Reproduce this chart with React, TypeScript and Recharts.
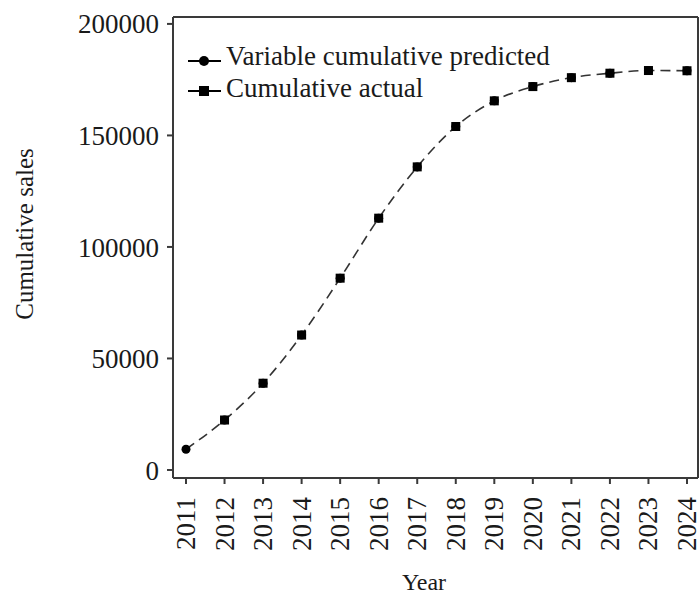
import {
  LineChart,
  Line,
  XAxis,
  YAxis,
} from 'recharts';

const years = [2011, 2012, 2013, 2014, 2015, 2016, 2017, 2018, 2019, 2020, 2021, 2022, 2023, 2024];
const predicted = [9300, 22400, 38900, 60500, 86000, 112900, 135900, 154000, 165500, 171900, 175900, 177900, 179100, 179000];
const actual = [null, 22400, 38900, 60500, 86000, 112900, 135900, 154000, 165500, 171900, 175900, 177900, 179100, 179000];
const yTicks = [0, 50000, 100000, 150000, 200000];

const data = years.map((year, i) => ({
  year,
  predicted: predicted[i],
  actual: actual[i],
}));

const FONT = '"Liberation Serif", "Times New Roman", serif';
const TEXT = '#1a1a1a';
const AXIS = '#3a3a3a';

const XTick = ({ x, y, payload }: any) => (
  <text
    x={0}
    y={0}
    transform={`translate(${x + 9},${y + 11}) rotate(-90)`}
    textAnchor="end"
    fontFamily={FONT}
    fontSize={27}
    fill={TEXT}
  >
    {payload.value}
  </text>
);

const CircleDot = ({ cx, cy, index }: any) => {
  if (cx == null || cy == null) return <g key={`c${index}`} />;
  return <circle key={`c${index}`} cx={cx} cy={cy} r={4.5} fill="#000" />;
};

const SquareDot = ({ cx, cy, index }: any) => {
  if (cx == null || cy == null) return <g key={`s${index}`} />;
  return <rect key={`s${index}`} x={cx - 4.5} y={cy - 4.5} width={9} height={9} fill="#000" />;
};

// legend drawn as an overlay so it does not eat chart space
const LegendBox = () => (
  <svg
    width={400}
    height={80}
    style={{ position: 'absolute', left: 186, top: 42, overflow: 'visible' }}
  >
    <line x1={2} y1={19} x2={35} y2={19} stroke="#000" strokeWidth={2} />
    <circle cx={18} cy={19} r={5} fill="#000" />
    <text x={40} y={23} fontFamily={FONT} fontSize={27} fill={TEXT}>
      Variable cumulative predicted
    </text>
    <line x1={2} y1={49} x2={35} y2={49} stroke="#000" strokeWidth={2} />
    <rect x={13} y={44} width={10} height={10} fill="#000" />
    <text x={40} y={55} fontFamily={FONT} fontSize={27} fill={TEXT}>
      Cumulative actual
    </text>
  </svg>
);

export default function App() {
  return (
    <div style={{ position: 'absolute', left: 0, top: 0, width: 699, height: 596 }}>
      <LineChart
        width={699}
        height={596}
        data={data}
        margin={{ top: 16, right: 0, left: 0, bottom: 0 }}
      >
        <XAxis
          dataKey="year"
          type="number"
          domain={[2011, 2024]}
          ticks={years}
          interval={0}
          padding={{ left: 13, right: 11 }}
          height={118}
          tick={<XTick />}
          tickSize={6}
          tickLine={{ stroke: AXIS, strokeWidth: 2 }}
          axisLine={{ stroke: AXIS, strokeWidth: 2 }}
          label={{
            content: () => (
              <text x={424} y={590} textAnchor="middle" fontFamily={FONT} fontSize={24} fill={TEXT}>
                Year
              </text>
            ),
          }}
        />
        <XAxis
          xAxisId="top"
          dataKey="year"
          type="number"
          domain={[2011, 2024]}
          orientation="top"
          height={1}
          tick={false}
          tickLine={false}
          axisLine={{ stroke: AXIS, strokeWidth: 2 }}
        />
        <YAxis
          domain={[-3600, 203100]}
          ticks={yTicks}
          interval={0}
          width={173}
          tickSize={6}
          tickMargin={8}
          tick={{ fontFamily: FONT, fontSize: 27, fill: TEXT }}
          tickLine={{ stroke: AXIS, strokeWidth: 2 }}
          axisLine={{ stroke: AXIS, strokeWidth: 2 }}
          label={{
            content: () => (
              <text
                x={0}
                y={0}
                transform="translate(33,234) rotate(-90)"
                textAnchor="middle"
                fontFamily={FONT}
                fontSize={25}
                fill={TEXT}
              >
                Cumulative sales
              </text>
            ),
          }}
        />
        <YAxis
          yAxisId="right"
          orientation="right"
          domain={[-3600, 203100]}
          width={1}
          tick={false}
          tickLine={false}
          axisLine={{ stroke: AXIS, strokeWidth: 2 }}
        />
        <Line
          type="monotone"
          dataKey="predicted"
          stroke="#333"
          strokeWidth={1.6}
          strokeDasharray="10 6"
          dot={<CircleDot />}
          activeDot={false}
          isAnimationActive={false}
        />
        <Line
          type="monotone"
          dataKey="actual"
          stroke="none"
          dot={<SquareDot />}
          activeDot={false}
          isAnimationActive={false}
        />
      </LineChart>
      <LegendBox />
    </div>
  );
}
